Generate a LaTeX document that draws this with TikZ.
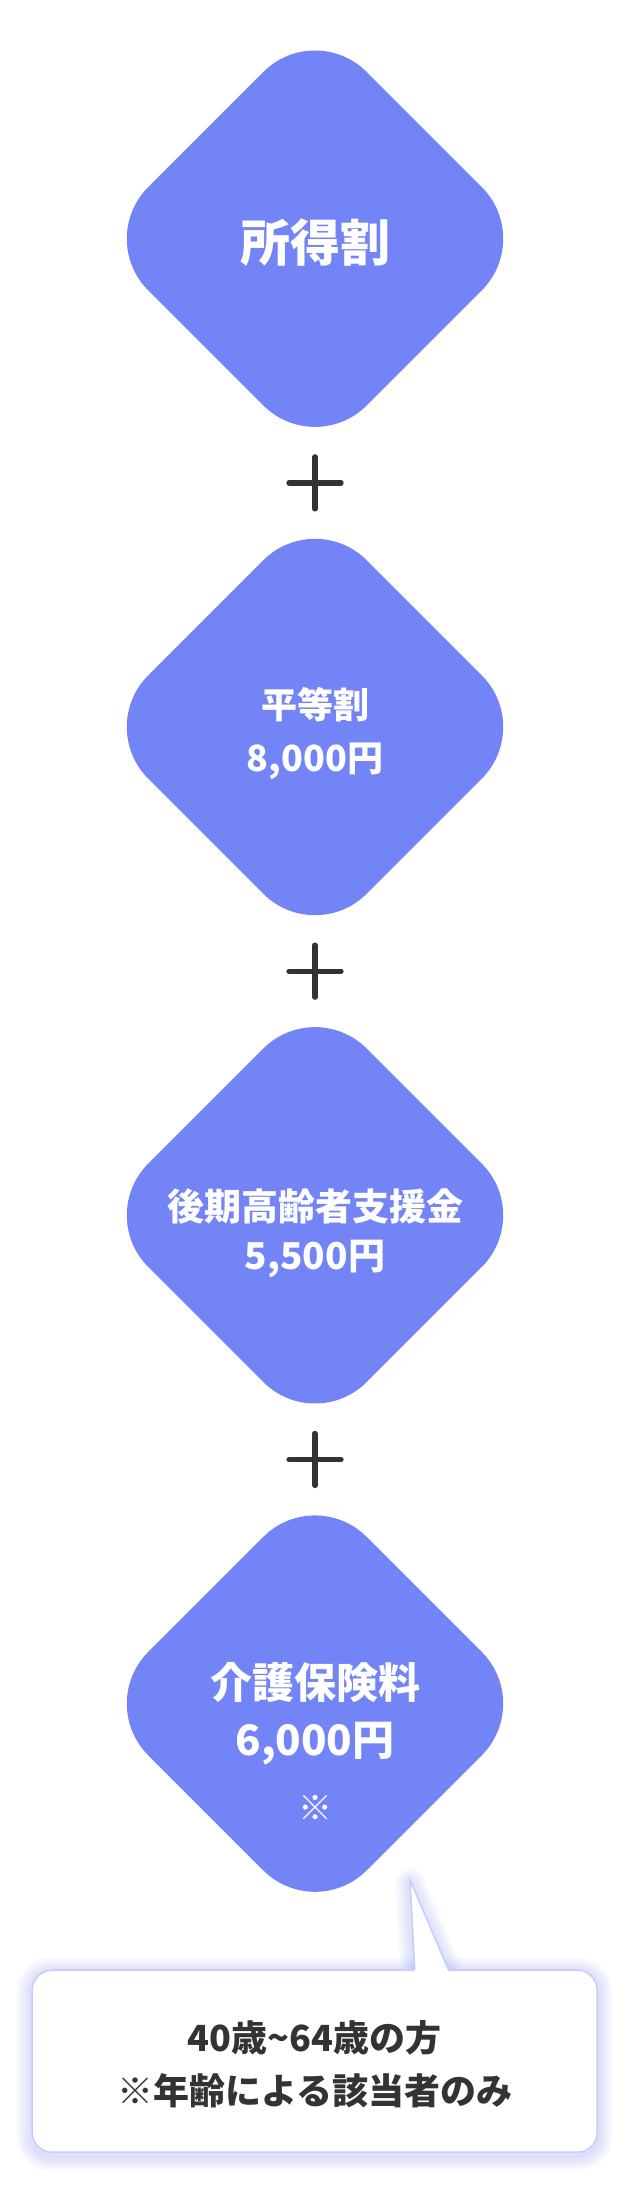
\documentclass[tikz,border=0pt]{standalone}
\usepackage{fontspec}
\setmainfont{Noto Sans CJK JP}
\usetikzlibrary{positioning,shapes.geometric,calc,backgrounds}
\definecolor{gemfill}{HTML}{7384F7}
\definecolor{ink}{HTML}{333333}
\definecolor{rim}{HTML}{C6CDFB}
\definecolor{haze}{HTML}{8C9BFA}
\newcommand{\fsz}[1]{\fontsize{#1}{#1}\selectfont\bfseries}

\begin{document}
\begin{tikzpicture}[
  x=1pt, y=-1pt,
  node distance=50.9pt,
  gem/.style={shape=diamond, fill=gemfill, minimum width=437pt,
              minimum height=437pt, rounded corners=73pt, inner sep=0pt},
  lbl/.style={text=white, anchor=base, inner sep=0pt},
  ntxt/.style={text=ink, anchor=base, inner sep=0pt},
  plus/.style={draw=ink, line width=5.3pt, line cap=round},
  memobox/.style={draw=rim, line width=1.5pt, fill=white, rounded corners=20pt,
                  minimum width=565pt, minimum height=182pt},
  rimline/.style={draw=rim, line width=1.5pt, line join=miter},
  glow/.style={draw=haze, draw opacity=0.03, line join=round}
]
  \useasboundingbox (0,0) rectangle (630,2186);
  \begin{pgfonlayer}{background}
    \fill[white] (0,0) rectangle (630,2186);
  \end{pgfonlayer}

  \node[gem] (sho) at (315,238.7) {};
  \node[gem, below=of sho] (hei) {};
  \node[gem, below=of hei] (kouki) {};
  \node[gem, below=of kouki] (kaigo) {};

  \node[lbl, font=\fsz{50}] (shot) at ($(sho)+(0,22.8)$) {所得割};
  \node[lbl, font=\fsz{36}] (heit) at ($(hei)+(0,-8.6)$) {平等割};
  \node[lbl, font=\fsz{36}] (heiy) at ($(hei)+(0,44.7)$) {8,000円};
  \node[lbl, font=\fsz{37}] (koukit) at ($(kouki)+(0,5)$) {後期高齢者支援金};
  \node[lbl, font=\fsz{37}] (koukiy) at ($(kouki)+(0,54)$) {5,500円};
  \node[lbl, font=\fsz{42}] (kaigot) at ($(kaigo)+(0,-4.7)$) {介護保険料};
  \node[lbl, font=\fsz{42}] (kaigoy) at ($(kaigo)+(0,52.3)$) {6,000円};
  \node[lbl, font=\fsz{34}] (kaigom) at ($(kaigo)+(0,117)$) {※};

  % plus signs half way between the diamonds
  \foreach \a/\b in {sho/hei, hei/kouki, kouki/kaigo}
    \draw[plus] ($(\a)!0.5!(\b)+(-26,0)$) -- ++(52,0)
                ($(\a)!0.5!(\b)+(0,-26)$) -- ++(0,52);

  % speech bubble with its tail up to the last diamond
  \node[memobox] (memo) at (314.7,2061.2) {};
  \coordinate (tip) at (410,1880);
  \begin{pgfonlayer}{background}
    \foreach \w in {3,6,...,30} {
      \draw[glow, line width=\w pt, rounded corners=20pt]
        ([yshift=-3pt]memo.north west) rectangle ([yshift=-3pt]memo.south east);
      \draw[glow, line width=\w pt]
        ([xshift=100pt,yshift=-3pt]memo.north) -- ([yshift=-3pt]tip)
        -- ([xshift=133.6pt,yshift=-3pt]memo.north);
    }
  \end{pgfonlayer}
  \fill[white] ([xshift=100pt,yshift=-1.6pt]memo.north) -- (tip)
    -- ([xshift=133.6pt,yshift=-1.6pt]memo.north) -- cycle;
  \draw[rimline] ([xshift=100pt]memo.north) -- (tip) -- ([xshift=133.6pt]memo.north);

  \node[ntxt, font=\fsz{36}] (memot) at ($(memo)+(0,-10.2)$) {40歳\textasciitilde64歳の方};
  \node[ntxt, font=\fsz{36}] (memob) at ($(memo)+(0,42.8)$) {※年齢による該当者のみ};
\end{tikzpicture}
\end{document}
